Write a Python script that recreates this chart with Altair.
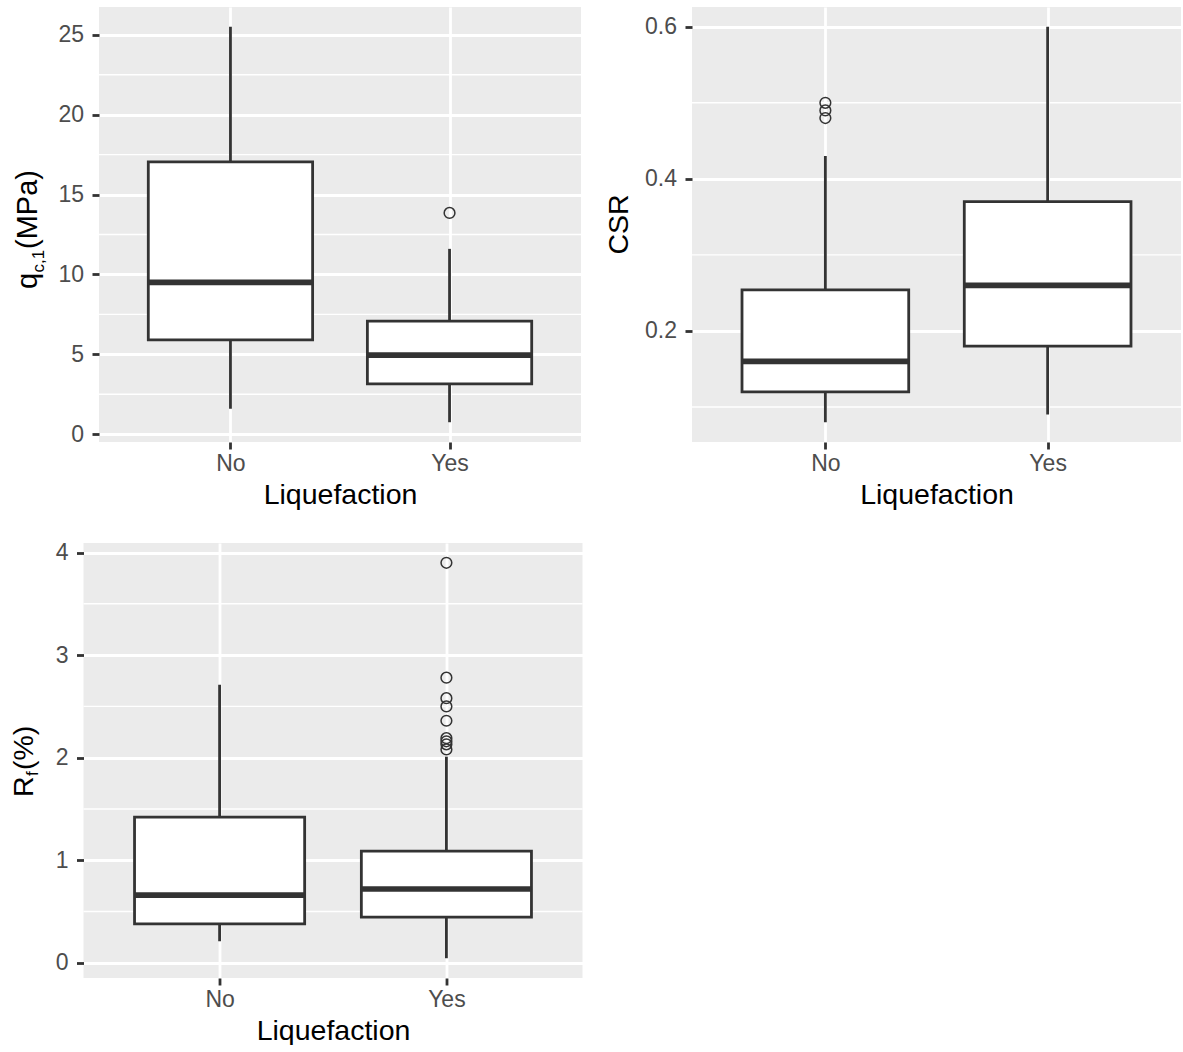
import altair as alt
import pandas as pd

categories = ["No", "Yes"]

# q_c,1 (MPa)
qc_lower = [1.6, 0.75]
qc_q1 = [5.9, 3.15]
qc_median = [9.5, 4.95]
qc_q3 = [17.05, 7.08]
qc_upper = [25.5, 11.6]
qc_out_cat = ["Yes"]
qc_out_val = [13.85]
qc_major = [0, 5, 10, 15, 20, 25]
qc_minor = [2.5, 7.5, 12.5, 17.5, 22.5]

# CSR
csr_lower = [0.08, 0.09]
csr_q1 = [0.12, 0.18]
csr_median = [0.16, 0.26]
csr_q3 = [0.254, 0.37]
csr_upper = [0.43, 0.60]
csr_out_cat = ["No", "No", "No"]
csr_out_val = [0.48, 0.49, 0.50]
csr_major = [0.2, 0.4, 0.6]
csr_minor = [0.1, 0.3, 0.5]

# R_f (%)
rf_lower = [0.21, 0.045]
rf_q1 = [0.38, 0.445]
rf_median = [0.66, 0.72]
rf_q3 = [1.42, 1.09]
rf_upper = [2.71, 2.01]
rf_out_cat = ["Yes"] * 9
rf_out_val = [2.08, 2.13, 2.16, 2.19, 2.36, 2.50, 2.58, 2.78, 3.90]
rf_major = [0, 1, 2, 3, 4]
rf_minor = [0.5, 1.5, 2.5, 3.5]

DARK = "#333333"
FONT = "Liberation Sans"


def panel(lower, q1, med, q3, upper, out_cat, out_val, major, minor, fmt,
          title_parts, w, h):
    pos = {c: i + 1 for i, c in enumerate(categories)}
    box = pd.DataFrame({
        "cat": categories,
        "pos": [pos[c] for c in categories],
        "lower": lower, "q1": q1, "median": med, "q3": q3, "upper": upper,
    })
    outl = pd.DataFrame({"pos": [pos[c] for c in out_cat], "value": out_val})
    lo = min(min(lower), min(out_val))
    hi = max(max(upper), max(out_val))
    ex = 0.05 * (hi - lo)
    yscale = alt.Scale(domain=[lo - ex, hi + ex], nice=False, zero=False)
    xscale = alt.Scale(domain=[0.4, len(categories) + 0.6], nice=False, zero=False)
    lab = "[" + ",".join("'%s'" % c for c in categories) + "]"
    xaxis = alt.Axis(values=list(range(1, len(categories) + 1)),
                     labelExpr=lab + "[datum.value - 1]",
                     title="Liquefaction", grid=True)
    yaxis = alt.Axis(values=major, format=fmt, title=None, grid=True)

    def X(f):
        return alt.X(f, scale=xscale, axis=xaxis)

    def Y(f):
        return alt.Y(f, scale=yscale, axis=yaxis)

    minor_layer = alt.Chart(pd.DataFrame({"v": minor})).mark_rule(
        color="white", strokeWidth=1.4).encode(y=Y("v:Q"))
    whisk = alt.Chart(box).mark_rule(color=DARK, strokeWidth=2.8).encode(
        x=X("pos:Q"), y=Y("lower:Q"), y2="upper:Q")
    base = alt.Chart(box).transform_calculate(
        left="datum.pos - 0.375", right="datum.pos + 0.375")
    boxes = base.mark_rect(fill="white", stroke=DARK, strokeWidth=2.8).encode(
        x=X("left:Q"), x2="right:Q", y=Y("q1:Q"), y2="q3:Q")
    medians = base.mark_rule(color=DARK, strokeWidth=5.6).encode(
        x=X("left:Q"), x2="right:Q", y=Y("median:Q"))
    points = alt.Chart(outl).mark_point(
        shape="circle", filled=False, color=DARK, size=115, strokeWidth=1.5,
        opacity=1).encode(x=X("pos:Q"), y=Y("value:Q"))
    layers = [minor_layer, whisk, boxes, medians, points]
    for text, xo, yo, fs, align in title_parts:
        layers.append(
            alt.Chart(alt.Data(values=[{}])).mark_text(
                text=text, angle=270, align=align, baseline="alphabetic",
                fontSize=fs, color="black", font=FONT,
            ).encode(x=alt.value(xo), y=alt.value(yo))
        )
    return alt.layer(*layers).properties(width=w, height=h)


def spacer():
    return alt.Chart(alt.Data(values=[{}])).mark_point(
        size=0, opacity=0, filled=True
    ).encode(x=alt.value(0), y=alt.value(0.5)).properties(
        width=1, height=1, view=alt.ViewBackground(opacity=0)
    )


A = panel(qc_lower, qc_q1, qc_median, qc_q3, qc_upper, qc_out_cat, qc_out_val,
          qc_major, qc_minor, "d",
          [("q", -62, 282, 29, "left"), ("c,1", -55, 265.5, 17, "left"),
           ("(MPa)", -62, 242, 29, "left")], 482, 435)
B = panel(csr_lower, csr_q1, csr_median, csr_q3, csr_upper, csr_out_cat,
          csr_out_val, csr_major, csr_minor, ".1f",
          [("CSR", -64, 217.5, 28.5, "center")], 489, 435)
C = panel(rf_lower, rf_q1, rf_median, rf_q3, rf_upper, rf_out_cat, rf_out_val,
          rf_major, rf_minor, "d",
          [("R", -50.5, 254, 28.5, "left"), ("f", -45.5, 233, 17, "left"),
           ("(%)", -50.5, 227, 28.5, "left")], 499, 435)

top_row = alt.hconcat(spacer(), alt.hconcat(A, B, spacing=23), spacing=4.5)
bottom_row = alt.hconcat(spacer(), C, spacing=0)

chart = alt.vconcat(top_row, bottom_row, spacing=32).properties(
    padding={"left": 8.5, "top": 7, "right": 0, "bottom": 0}
).configure(font=FONT).configure_view(
    fill="#EBEBEB", stroke=None
).configure_axis(
    domain=False, tickColor=DARK, tickWidth=2.8, tickSize=7,
    labelColor="#4D4D4D", labelFontSize=23, labelFont=FONT,
    titleFontSize=28.5, titleColor="black", titleFontWeight="normal",
    titleFont=FONT,
    gridColor="white", gridWidth=2.8,
).configure_axisX(
    labelPadding=3.5, titlePadding=4.5
).configure_axisY(
    labelPadding=8.5
)

chart.save("out.html", embed_options={"renderer": "svg", "actions": False})
